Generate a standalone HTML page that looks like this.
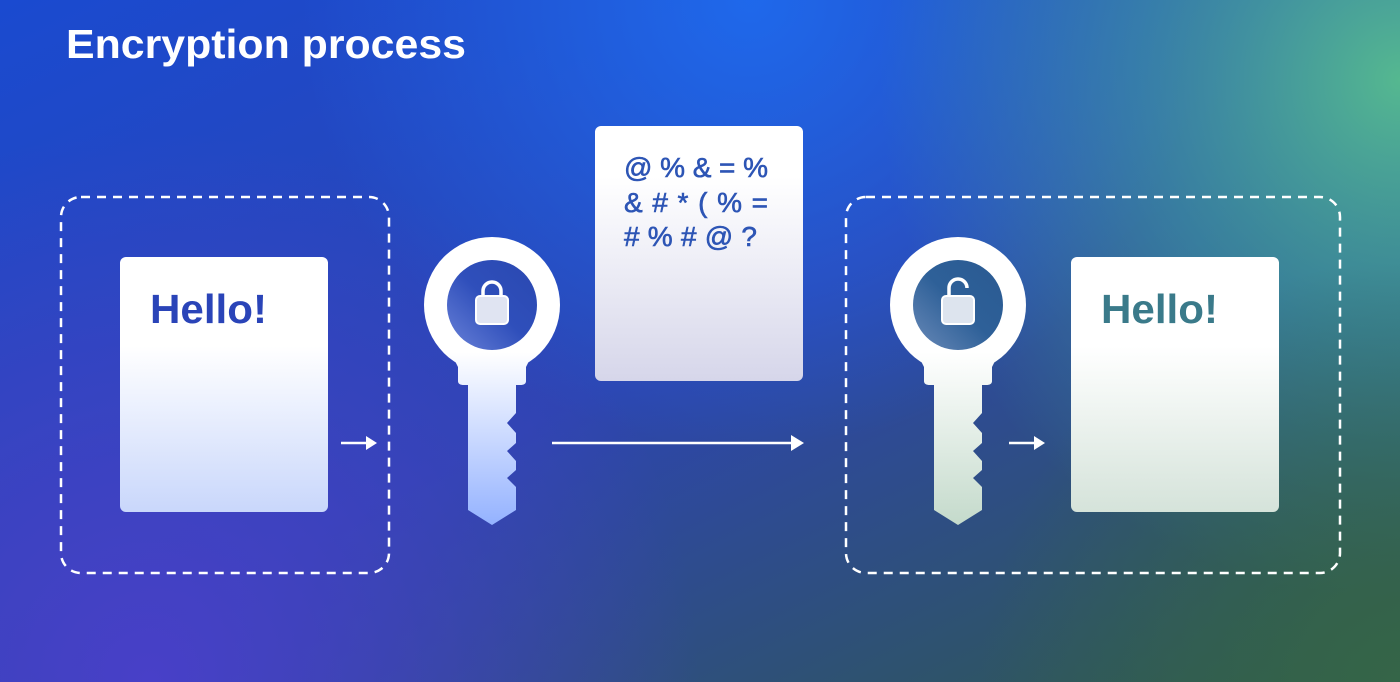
<!DOCTYPE html>
<html><head><meta charset="utf-8"><style>
html,body{margin:0;padding:0;width:1400px;height:682px;overflow:hidden}
svg{display:block}
</style></head><body>
<svg width="1400" height="682" viewBox="0 0 1400 682" xmlns="http://www.w3.org/2000/svg">
<defs>
<linearGradient id="bg" x1="0" y1="0" x2="1" y2="1">
<stop offset="0" stop-color="#1a4ad0"/><stop offset="0.5" stop-color="#2d45b0"/><stop offset="1" stop-color="#2f5a48"/>
</linearGradient>
<radialGradient id="g1" cx="1400" cy="80" r="520" gradientUnits="userSpaceOnUse">
<stop offset="0" stop-color="#55b890" stop-opacity="1"/><stop offset="0.5" stop-color="#3fa0a0" stop-opacity="0.6"/><stop offset="1" stop-color="#3fa0a0" stop-opacity="0"/>
</radialGradient>
<radialGradient id="g2" cx="750" cy="0" r="450" gradientUnits="userSpaceOnUse">
<stop offset="0" stop-color="#1e6cf0" stop-opacity="0.9"/><stop offset="1" stop-color="#1e6cf0" stop-opacity="0"/>
</radialGradient>
<radialGradient id="g3" cx="150" cy="682" r="550" gradientUnits="userSpaceOnUse">
<stop offset="0" stop-color="#4840c8" stop-opacity="1"/><stop offset="1" stop-color="#4840c8" stop-opacity="0"/>
</radialGradient>
<radialGradient id="g4" cx="1400" cy="682" r="420" gradientUnits="userSpaceOnUse">
<stop offset="0" stop-color="#356548" stop-opacity="1"/><stop offset="1" stop-color="#356548" stop-opacity="0"/>
</radialGradient>
<linearGradient id="d1" x1="0" y1="0" x2="0" y2="1"><stop offset="0.35" stop-color="#fff"/><stop offset="1" stop-color="#c9d7fb"/></linearGradient>
<linearGradient id="d2" x1="0" y1="0" x2="0" y2="1"><stop offset="0.2" stop-color="#fff"/><stop offset="1" stop-color="#d6d6ea"/></linearGradient>
<linearGradient id="d3" x1="0" y1="0" x2="0" y2="1"><stop offset="0.35" stop-color="#fff"/><stop offset="1" stop-color="#d5e3da"/></linearGradient>
<linearGradient id="k1" x1="0" y1="-68" x2="0" y2="220" gradientUnits="userSpaceOnUse"><stop offset="0.4" stop-color="#fff"/><stop offset="1" stop-color="#94b2ff"/></linearGradient>
<linearGradient id="k2" x1="0" y1="-68" x2="0" y2="220" gradientUnits="userSpaceOnUse"><stop offset="0.4" stop-color="#fff"/><stop offset="1" stop-color="#c4dacb"/></linearGradient>
<linearGradient id="in1" x1="0" y1="1" x2="1" y2="0"><stop offset="0" stop-color="#6a82d8"/><stop offset="0.5" stop-color="#2f4fbb"/><stop offset="1" stop-color="#2a48b0"/></linearGradient>
<linearGradient id="in2" x1="0" y1="1" x2="1" y2="0"><stop offset="0" stop-color="#6a8ab8"/><stop offset="0.5" stop-color="#2e6098"/><stop offset="1" stop-color="#2a5a92"/></linearGradient>
</defs>
<rect width="1400" height="682" fill="url(#bg)"/>
<rect width="1400" height="682" fill="url(#g2)"/>
<rect width="1400" height="682" fill="url(#g3)"/>
<rect width="1400" height="682" fill="url(#g1)"/>
<rect width="1400" height="682" fill="url(#g4)"/>

<text x="66" y="58" fill="#fff" font-family="Liberation Sans, sans-serif" font-weight="700" font-size="41" textLength="400" lengthAdjust="spacingAndGlyphs">Encryption process</text>

<rect x="61" y="197" width="328" height="376" rx="20" fill="none" stroke="#fff" stroke-width="2.5" stroke-dasharray="9 7"/>
<rect x="846" y="197" width="494" height="376" rx="20" fill="none" stroke="#fff" stroke-width="2.5" stroke-dasharray="9 7"/>

<rect x="120" y="257" width="208" height="255" rx="6" fill="url(#d1)"/>
<text x="150" y="323" fill="#2a44b8" font-family="Liberation Sans, sans-serif" font-weight="700" font-size="41" textLength="117" lengthAdjust="spacingAndGlyphs">Hello!</text>
<rect x="1071" y="257" width="208" height="255" rx="6" fill="url(#d3)"/>
<text x="1101" y="323" fill="#3a7a8a" font-family="Liberation Sans, sans-serif" font-weight="700" font-size="41" textLength="117" lengthAdjust="spacingAndGlyphs">Hello!</text>

<rect x="595" y="126" width="208" height="255" rx="6" fill="url(#d2)"/>
<g fill="#2d55b5" stroke="#2d55b5" stroke-width="0.6" font-family="Liberation Sans, sans-serif" font-size="28" font-weight="400" lengthAdjust="spacingAndGlyphs">
<text x="624" y="177" textLength="144">@ % &amp; = %</text>
<text x="624" y="212" textLength="144">&amp; # * ( % =</text>
<text x="624" y="246" textLength="133">#  % # @ ?</text>
</g>

<g stroke="#fff" stroke-width="2.5" fill="#fff">
<line x1="341" y1="443" x2="368" y2="443"/><path d="M366,436 L377,443 L366,450Z" stroke="none"/>
<line x1="552" y1="443" x2="794" y2="443"/><path d="M791,435 L804,443 L791,451Z" stroke="none"/>
<line x1="1009" y1="443" x2="1036" y2="443"/><path d="M1034,436 L1045,443 L1034,450Z" stroke="none"/>
</g>

<g transform="translate(492,305)">
<circle r="68" fill="url(#k1)"/>
<path d="M-40,50 L40,50 L34,62 L34,76 Q34,80 28,80 L24,80 L24,108 L15,118 L24,128 L24,138 L15,146 L24,156 L24,165 L15,173 L24,182 L24,205 L0,220 L-24,205 L-24,80 L-28,80 Q-34,80 -34,76 L-34,62Z" fill="url(#k1)"/>
<circle r="45" fill="url(#in1)"/>
<path d="M-9,-8 L-9,-14 A9,9 0 0 1 9,-14 L9,-8" fill="none" stroke="#fff" stroke-width="3.5"/>
<rect x="-16" y="-9" width="32" height="28" rx="4" fill="#e0e4f2" stroke="#fff" stroke-width="2"/>
</g>
<g transform="translate(958,305)">
<circle r="68" fill="url(#k2)"/>
<path d="M-40,50 L40,50 L34,62 L34,76 Q34,80 28,80 L24,80 L24,108 L15,118 L24,128 L24,138 L15,146 L24,156 L24,165 L15,173 L24,182 L24,205 L0,220 L-24,205 L-24,80 L-28,80 Q-34,80 -34,76 L-34,62Z" fill="url(#k2)"/>
<circle r="45" fill="url(#in2)"/>
<path d="M-9,-8 L-9,-17 A9,9 0 0 1 9,-17" fill="none" stroke="#fff" stroke-width="3.5"/>
<rect x="-16" y="-9" width="32" height="28" rx="4" fill="#dde4ee" stroke="#fff" stroke-width="2"/>
</g>
</svg>
</body></html>
